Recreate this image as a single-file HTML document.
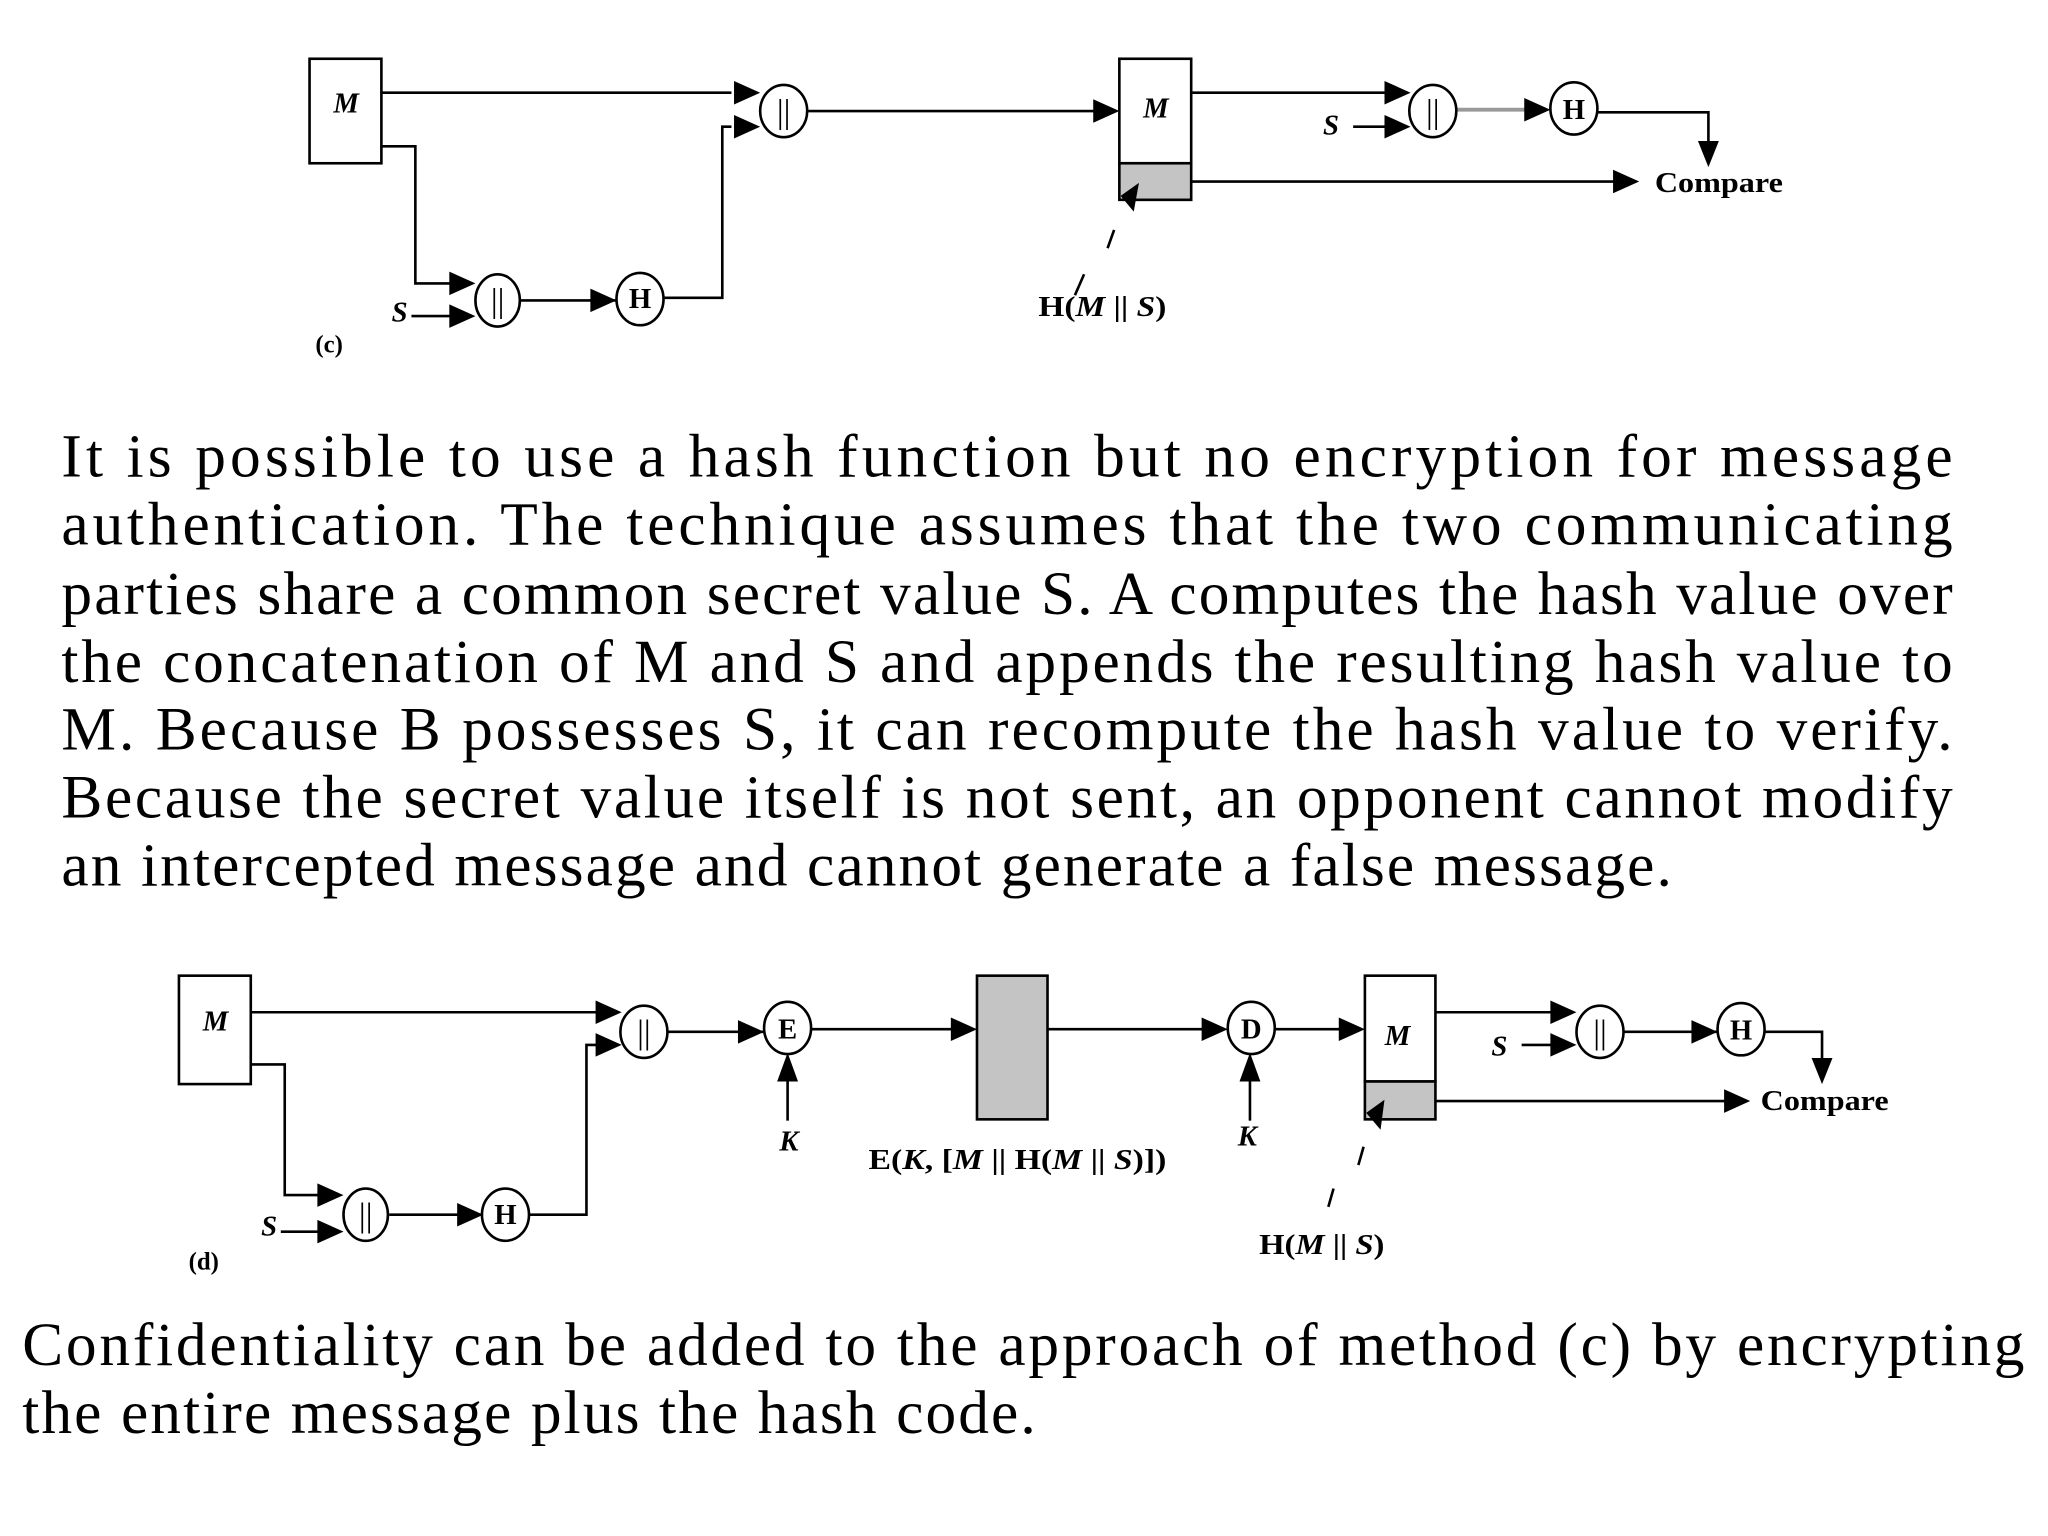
<!DOCTYPE html>
<html><head><meta charset="utf-8"><style>
html,body{margin:0;padding:0;background:#fff;}
svg{display:block;}
.lbl{font-family:"Liberation Serif",serif;font-size:22px;}
.it{font-style:italic;}
.b{font-weight:bold;}
.p{font-family:"Liberation Serif",serif;font-size:47px;}
</style></head><body>
<svg width="2048" height="1536" viewBox="0 0 1568 1176" xmlns="http://www.w3.org/2000/svg">
<g fill="none" stroke="#000" stroke-width="2">
<rect x="237" y="45" width="55" height="80" fill="#fff"/>
<polyline points="292,71 560,71"/>
<polyline points="292,112 318,112 318,217 345,217"/>
<polyline points="315,242 345,242"/>
<polyline points="398,230 475,230"/>
<polyline points="508,228 553,228 553,97 560,97"/>
<polyline points="618,85 840,85"/>
<ellipse cx="381" cy="230" rx="17" ry="20" fill="#fff"/>
<ellipse cx="490" cy="229" rx="18" ry="20" fill="#fff"/>
<ellipse cx="600" cy="85" rx="18" ry="20" fill="#fff"/>
<rect x="857" y="45" width="55" height="80" fill="#fff"/>
<rect x="857" y="125" width="55" height="28" fill="#c4c4c4"/>
<polyline points="912,71 1065,71"/>
<polyline points="1036,97 1065,97"/>
<polyline points="1115,84 1170,84" stroke="#999" stroke-width="3"/>
<polyline points="1223,86 1308,86 1308,112"/>
<polyline points="912,139 1240,139"/>
<ellipse cx="1097" cy="85" rx="18" ry="20" fill="#fff"/>
<ellipse cx="1205" cy="83" rx="18" ry="20" fill="#fff"/>
<line x1="853" y1="176" x2="848" y2="190"/>
<line x1="830" y1="210" x2="823" y2="226"/>
<rect x="137" y="747" width="55" height="83" fill="#fff"/>
<polyline points="192,775 460,775"/>
<polyline points="192,815 218,815 218,915 245,915"/>
<polyline points="215,943 245,943"/>
<polyline points="298,930 370,930"/>
<polyline points="405,930 449,930 449,800 460,800"/>
<polyline points="511,790 585,790"/>
<polyline points="621,788 735,788"/>
<polyline points="603,858 603,820"/>
<rect x="748" y="747" width="54" height="110" fill="#c4c4c4"/>
<polyline points="802,788 925,788"/>
<polyline points="957,858 957,820"/>
<polyline points="976,788 1032,788"/>
<rect x="1045" y="747" width="54" height="81" fill="#fff"/>
<rect x="1045" y="828" width="54" height="29" fill="#c4c4c4"/>
<polyline points="1099,775 1195,775"/>
<polyline points="1165,800 1195,800"/>
<polyline points="1243,790 1318,790"/>
<polyline points="1351,790 1395,790 1395,815"/>
<polyline points="1099,843 1325,843"/>
<ellipse cx="280" cy="930" rx="17" ry="20" fill="#fff"/>
<ellipse cx="387" cy="930" rx="18" ry="20" fill="#fff"/>
<ellipse cx="493" cy="790" rx="18" ry="20" fill="#fff"/>
<ellipse cx="603" cy="787" rx="18" ry="20" fill="#fff"/>
<ellipse cx="958" cy="787" rx="18" ry="20" fill="#fff"/>
<ellipse cx="1225" cy="790" rx="18" ry="20" fill="#fff"/>
<ellipse cx="1333" cy="788" rx="18" ry="20" fill="#fff"/>
<line x1="1044" y1="878" x2="1040" y2="892"/>
<line x1="1021" y1="910" x2="1017" y2="924"/>
</g>
<g fill="#000">
<polygon points="582,71 562,62 562,80"/>
<polygon points="582,97 562,88 562,106"/>
<polygon points="364,217 344,208 344,226"/>
<polygon points="364,242 344,233 344,251"/>
<polygon points="472,230 452,221 452,239"/>
<polygon points="857,85 837,76 837,94"/>
<polygon points="1080,71 1060,62 1060,80"/>
<polygon points="1080,97 1060,88 1060,106"/>
<polygon points="1187,84 1167,75 1167,93"/>
<polygon points="1308,128 1300,108 1316,108"/>
<polygon points="1255,139 1235,130 1235,148"/>
<polygon points="858,150 872,140 868,162"/>
<polygon points="476,775 456,766 456,784"/>
<polygon points="476,800 456,791 456,809"/>
<polygon points="263,915 243,906 243,924"/>
<polygon points="263,943 243,934 243,952"/>
<polygon points="370,930 350,921 350,939"/>
<polygon points="585,790 565,781 565,799"/>
<polygon points="603,806 595,828 611,828"/>
<polygon points="748,788 728,779 728,797"/>
<polygon points="940,788 920,779 920,797"/>
<polygon points="957,806 949,828 965,828"/>
<polygon points="1045,788 1025,779 1025,797"/>
<polygon points="1207,775 1187,766 1187,784"/>
<polygon points="1207,800 1187,791 1187,809"/>
<polygon points="1315,790 1295,781 1295,799"/>
<polygon points="1395,830 1387,810 1403,810"/>
<polygon points="1340,843 1320,834 1320,852"/>
<polygon points="1046,852 1060,842 1057,865"/>
</g>
<g class="lbl" text-anchor="middle">
<text x="265" y="86" class="it b">M</text>
<text x="885" y="90" class="it b">M</text>
<text x="381" y="239" font-size="26">||</text>
<text x="600" y="94" font-size="26">||</text>
<text x="1097" y="94" font-size="26">||</text>
<text x="490" y="236" class="b">H</text>
<text x="1205" y="91" class="b">H</text>
<text x="306" y="246" class="it b">S</text>
<text x="1019" y="103" class="it b">S</text>
<text x="1316" y="147" class="b" textLength="98" lengthAdjust="spacingAndGlyphs">Compare</text>
<text x="844" y="242" class="b" textLength="98" lengthAdjust="spacingAndGlyphs">H(<tspan class="it">M</tspan> || <tspan class="it">S</tspan>)</text>
<text x="252" y="270" class="b" font-size="19">(c)</text>
<text x="165" y="789" class="it b">M</text>
<text x="1070" y="800" class="it b">M</text>
<text x="280" y="939" font-size="26">||</text>
<text x="493" y="799" font-size="26">||</text>
<text x="1225" y="799" font-size="26">||</text>
<text x="387" y="937" class="b">H</text>
<text x="1333" y="796" class="b">H</text>
<text x="603" y="795" class="b">E</text>
<text x="958" y="795" class="b">D</text>
<text x="206" y="946" class="it b">S</text>
<text x="1148" y="808" class="it b">S</text>
<text x="604" y="881" class="it b">K</text>
<text x="955" y="877" class="it b">K</text>
<text x="1397" y="850" class="b" textLength="98" lengthAdjust="spacingAndGlyphs">Compare</text>
<text x="779" y="895" class="b" textLength="228" lengthAdjust="spacingAndGlyphs">E(<tspan class="it">K</tspan>, [<tspan class="it">M</tspan> || H(<tspan class="it">M</tspan> || <tspan class="it">S</tspan>)])</text>
<text x="1012" y="960" class="b" textLength="96" lengthAdjust="spacingAndGlyphs">H(<tspan class="it">M</tspan> || <tspan class="it">S</tspan>)</text>
<text x="156" y="972" class="b" font-size="19">(d)</text>
</g>
<g class="p">
<text x="47" y="365" textLength="1448" lengthAdjust="spacing">It is possible to use a hash function but no encryption for message</text>
<text x="47" y="417" textLength="1448" lengthAdjust="spacing">authentication. The technique assumes that the two communicating</text>
<text x="47" y="470" textLength="1448" lengthAdjust="spacing">parties share a common secret value S. A computes the hash value over</text>
<text x="47" y="522" textLength="1448" lengthAdjust="spacing">the concatenation of M and S and appends the resulting hash value to</text>
<text x="47" y="574" textLength="1448" lengthAdjust="spacing">M. Because B possesses S, it can recompute the hash value to verify.</text>
<text x="47" y="626" textLength="1448" lengthAdjust="spacing">Because the secret value itself is not sent, an opponent cannot modify</text>
<text x="47" y="678" textLength="1233" lengthAdjust="spacing">an intercepted message and cannot generate a false message.</text>
<text x="17" y="1045" textLength="1533" lengthAdjust="spacing">Confidentiality can be added to the approach of method (c) by encrypting</text>
<text x="17" y="1097" textLength="776" lengthAdjust="spacing">the entire message plus the hash code.</text>
</g>
</svg>
</body></html>
